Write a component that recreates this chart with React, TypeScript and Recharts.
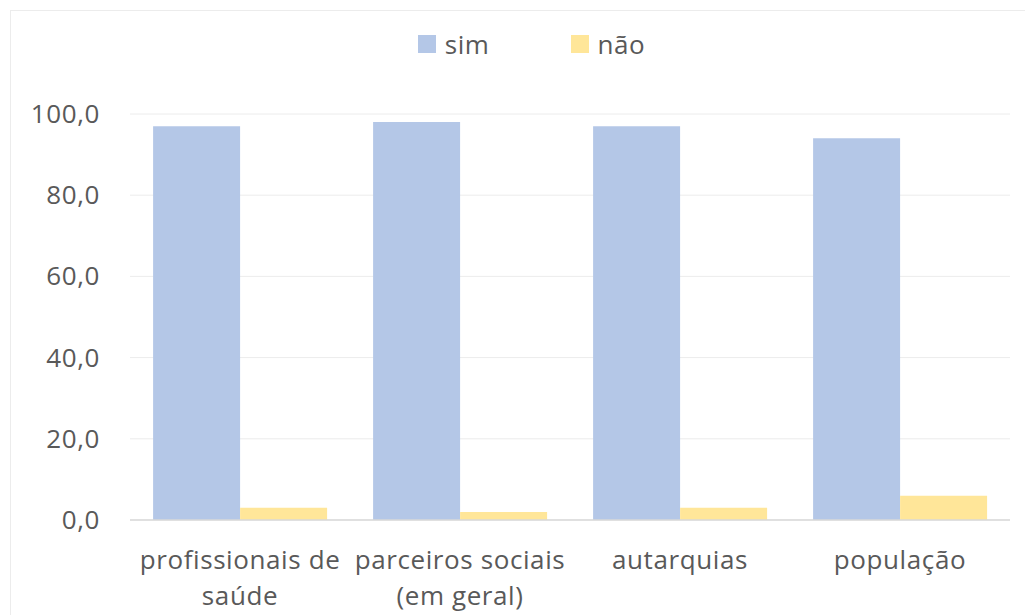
import React from 'react';
import { BarChart, Bar, XAxis, YAxis, CartesianGrid } from 'recharts';

const categories = [
  ['profissionais de', 'saúde'],
  ['parceiros sociais', '(em geral)'],
  ['autarquias'],
  ['população'],
];
const simValues = [97, 98, 97, 94];
const naoValues = [3, 2, 3, 6];
const yTicks = [0, 20, 40, 60, 80, 100];

const data = categories.map((lines, i) => ({
  name: lines.join(' '),
  lines,
  sim: simValues[i],
  nao: naoValues[i],
}));

const FONT = '"Open Sans", sans-serif';
const TEXT = '#595959';
const SIZE = 26;
const SPACING = 0.6;

const CategoryTick = (props: any) => {
  const { x, y, payload, index } = props;
  const lines: string[] = data[index]?.lines ?? [payload.value];
  return (
    <text x={x} y={y} textAnchor="middle" fill={TEXT} fontSize={SIZE} letterSpacing={SPACING} fontFamily={FONT}>
      {lines.map((l, i) => (
        <tspan key={i} x={x} dy={i === 0 ? 41 : 36}>
          {l}
        </tspan>
      ))}
    </text>
  );
};

const ValueTick = (props: any) => {
  const { x, y, payload } = props;
  return (
    <text x={x} y={y} dy={9} textAnchor="end" fill={TEXT} fontSize={SIZE} letterSpacing={SPACING} fontFamily={FONT}>
      {payload.value.toFixed(1).replace('.', ',')}
    </text>
  );
};

export default function App() {
  return (
    <div style={{ position: 'absolute', left: 0, top: 0, width: 1025, height: 615, background: '#fff' }}>
      <div
        style={{
          position: 'absolute',
          left: 10,
          top: 10,
          right: 0,
          bottom: 0,
          borderTop: '1px solid #ececec',
          borderLeft: '1px solid #ececec',
        }}
      />
      <div
        style={{
          position: 'absolute',
          top: 26,
          left: 0,
          width: 1025,
          display: 'flex',
          justifyContent: 'center',
          fontFamily: FONT,
          fontSize: SIZE,
          letterSpacing: SPACING,
          color: TEXT,
          lineHeight: '36px',
        }}
      >
        <div style={{ display: 'flex', alignItems: 'center', marginRight: 82, marginLeft: 38 }}>
          <span style={{ width: 18, height: 18, background: '#B4C7E7', marginRight: 9, display: 'inline-block' }} />
          sim
        </div>
        <div style={{ display: 'flex', alignItems: 'center' }}>
          <span style={{ width: 18, height: 18, background: '#FFE699', marginRight: 8, display: 'inline-block' }} />
          não
        </div>
      </div>
      <BarChart
        width={1025}
        height={615}
        data={data}
        margin={{ top: 114, right: 15, bottom: 0, left: 0 }}
        barCategoryGap="10.5%"
        barGap={0}
        style={{ position: 'absolute', left: 0, top: 0 }}
      >
        <CartesianGrid vertical={false} stroke="#ececec" />
        <XAxis
          dataKey="name"
          height={95}
          tick={<CategoryTick />}
          tickLine={false}
          axisLine={{ stroke: '#d9d9d9', strokeWidth: 1.5 }}
          interval={0}
        />
        <YAxis
          width={130}
          domain={[0, 100]}
          ticks={yTicks}
          tick={<ValueTick />}
          tickLine={false}
          tickSize={0}
          tickMargin={30}
          axisLine={false}
        />
        <Bar dataKey="sim" fill="#B4C7E7" isAnimationActive={false} />
        <Bar dataKey="nao" fill="#FFE699" isAnimationActive={false} />
      </BarChart>
    </div>
  );
}
